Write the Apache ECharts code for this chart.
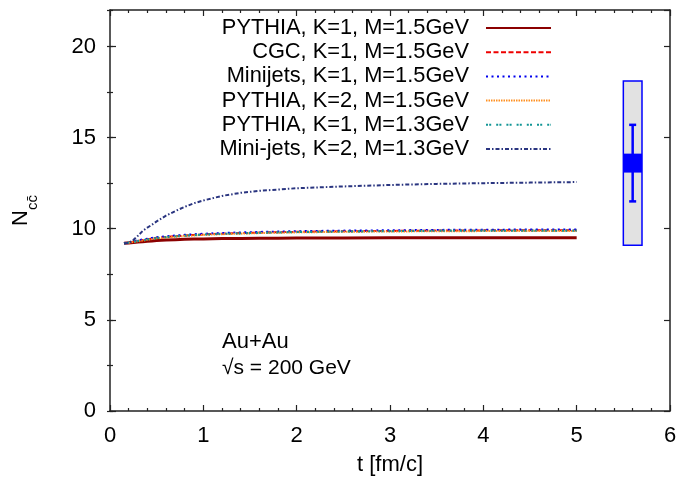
<!DOCTYPE html>
<html>
<head>
<meta charset="utf-8">
<script src="https://cdn.jsdelivr.net/npm/echarts@6/dist/echarts.min.js"></script>
<style>html,body{margin:0;padding:0;background:#fff}#c{width:680px;height:485px}</style>
</head>
<body>
<div id="c"></div>
<script>
// ---- data ----
const tValues = [0.15,0.2,0.25,0.3,0.35,0.4,0.45,0.5,0.6,0.7,0.8,0.9,1.0,1.2,1.4,1.6,1.8,2.0,2.5,3.0,3.5,4.0,4.5,5.0];
const pythiaK1M15 = [9.2,9.22,9.24,9.27,9.29,9.31,9.33,9.35,9.38,9.4,9.42,9.43,9.44,9.46,9.47,9.48,9.48,9.49,9.49,9.5,9.5,9.5,9.5,9.5];
const cgcK1M15    = [9.2,9.24,9.29,9.34,9.38,9.42,9.46,9.5,9.55,9.59,9.63,9.66,9.69,9.73,9.76,9.79,9.81,9.83,9.86,9.88,9.9,9.91,9.92,9.92];
const minijetsK1M15 = [9.2,9.25,9.31,9.36,9.41,9.45,9.49,9.53,9.58,9.62,9.66,9.69,9.72,9.76,9.79,9.82,9.84,9.86,9.89,9.91,9.93,9.94,9.95,9.95];
const pythiaK2M15 = [9.2,9.23,9.27,9.31,9.35,9.39,9.43,9.47,9.52,9.56,9.6,9.63,9.66,9.7,9.73,9.76,9.78,9.8,9.83,9.85,9.86,9.87,9.88,9.88];
const pythiaK1M13 = [9.2,9.24,9.28,9.33,9.37,9.41,9.45,9.49,9.54,9.58,9.62,9.65,9.68,9.72,9.75,9.78,9.8,9.82,9.85,9.87,9.89,9.9,9.9,9.9];
const minijetsK2M13 = [9.2,9.22,9.38,9.62,9.88,10.06,10.22,10.4,10.72,10.97,11.2,11.4,11.55,11.8,11.97,12.08,12.15,12.22,12.32,12.4,12.46,12.5,12.53,12.56];

const seriesNames = [
  'PYTHIA, K=1, M=1.5GeV',
  'CGC, K=1, M=1.5GeV',
  'Minijets, K=1, M=1.5GeV',
  'PYTHIA, K=2, M=1.5GeV',
  'PYTHIA, K=1, M=1.3GeV',
  'Mini-jets, K=2, M=1.3GeV'
];
const seriesValues = [pythiaK1M15, cgcK1M15, minijetsK1M15, pythiaK2M15, pythiaK1M13, minijetsK2M13];

// experimental point: t, value, stat error, sys error, half width (t), core half height
const expT = [5.6];
const expValue = [13.6];
const expStat = [2.1];
const expSys = [4.5];
const expHalfWidth = [0.1];
const expCore = [0.52];

const xTicks = [0,1,2,3,4,5,6];
const yTicks = [0,5,10,15,20];

// ---- styles ----
const FONT = "'Liberation Sans', Arial, sans-serif";
const styles = [
  {color:'#8b0000', width:3, type:'solid'},
  {color:'#ee0000', width:2, type:[5,2.5]},
  {color:'#0000ee', width:2.2, type:[2,3.5]},
  {color:'#ff9020', width:2, type:[1.5,1]},
  {color:'#129595', width:2.2, type:[2,1.2,2,5]},
  {color:'#2a3580', width:2, type:[4,2,1.5,2]}
];

const chart = echarts.init(document.getElementById('c'), null, {renderer:'canvas'});
const axisLineStyle = {color:'#222', width:1.5};

const lineSeries = seriesNames.map((name, i) => ({
  name: name,
  type: 'line',
  xAxisIndex: 0,
  yAxisIndex: 0,
  symbol: 'none',
  showSymbol: false,
  smooth: false,
  animation: false,
  data: tValues.map((t, k) => [t, seriesValues[i][k]]),
  lineStyle: styles[i],
  itemStyle: {color: styles[i].color},
  z: 2 + i
}));

const expSeries = {
  type: 'custom',
  name: 'STAR',
  xAxisIndex: 0,
  yAxisIndex: 0,
  animation: false,
  data: expT.map((t, i) => [t, expValue[i], expStat[i], expSys[i], expHalfWidth[i], expCore[i]]),
  renderItem: function (params, api) {
    const t = api.value(0), c = api.value(1), st = api.value(2), sy = api.value(3), hw = api.value(4), core = api.value(5);
    const tl = api.coord([t - hw, c + sy]);
    const br = api.coord([t + hw, c - sy]);
    const ctl = api.coord([t - hw, c + core]);
    const cbr = api.coord([t + hw, c - core]);
    const top = api.coord([t, c + st]);
    const bot = api.coord([t, c - st]);
    const cap = 3.5;
    return {
      type: 'group',
      children: [
        {type:'rect', shape:{x:tl[0], y:tl[1], width:br[0]-tl[0], height:br[1]-tl[1]}, style:{fill:'#e2e2e2', stroke:'#0000ff', lineWidth:1.5}},
        {type:'line', shape:{x1:top[0], y1:top[1], x2:bot[0], y2:bot[1]}, style:{stroke:'#0000ff', lineWidth:2.5}},
        {type:'line', shape:{x1:top[0]-cap, y1:top[1], x2:top[0]+cap, y2:top[1]}, style:{stroke:'#0000ff', lineWidth:2.5}},
        {type:'line', shape:{x1:bot[0]-cap, y1:bot[1], x2:bot[0]+cap, y2:bot[1]}, style:{stroke:'#0000ff', lineWidth:2.5}},
        {type:'rect', shape:{x:ctl[0], y:ctl[1], width:cbr[0]-ctl[0], height:cbr[1]-ctl[1]}, style:{fill:'#0000ff'}}
      ]
    };
  },
  z: 10
};

const option = {
  animation: false,
  backgroundColor: '#fff',
  textStyle: {fontFamily: FONT},
  grid: {left:110, right:10, top:10, bottom:74, containLabel:false, outerBoundsMode:'none'},
  legend: {
    data: seriesNames,
    orient: 'vertical',
    align: 'right',
    right: 128,
    top: 17,
    padding: 0,
    itemWidth: 65,
    itemHeight: 14,
    itemGap: 2.2,
    selectedMode: false,
    itemStyle: {opacity: 0},
    textStyle: {fontFamily: FONT, fontSize: 21.8, color:'#000', lineHeight: 22, padding:[0,12,0,0]}
  },
  xAxis: [
    {
      type:'value', position:'bottom', min:xTicks[0], max:xTicks[xTicks.length-1], interval:1,
      name:'t [fm/c]', nameLocation:'middle', nameGap:43,
      nameTextStyle:{fontFamily:FONT, fontSize:22, color:'#000'},
      axisLine:{show:true, onZero:false, lineStyle:axisLineStyle},
      axisTick:{show:true, inside:true, length:6, lineStyle:{color:'#222', width:1.2}},
      minorTick:{show:true, splitNumber:5, length:3, lineStyle:{color:'#222', width:1.2}},
      axisLabel:{fontFamily:FONT, fontSize:22, color:'#000', margin:14},
      splitLine:{show:false}
    },
    {
      type:'value', position:'top', min:xTicks[0], max:xTicks[xTicks.length-1], interval:1,
      axisLine:{show:true, onZero:false, lineStyle:axisLineStyle},
      axisTick:{show:true, inside:true, length:6, lineStyle:{color:'#222', width:1.2}},
      minorTick:{show:true, splitNumber:5, length:3, lineStyle:{color:'#222', width:1.2}},
      axisLabel:{show:false},
      splitLine:{show:false}
    }
  ],
  yAxis: [
    {
      type:'value', position:'left', min:0, max:22, interval:5,
      name:'{n|N}{s|c\u0063\u0304}', nameLocation:'middle', nameGap:70, nameRotate:90,
      nameTextStyle:{
        fontFamily:FONT, color:'#000',
        rich:{
          n:{fontFamily:FONT, fontSize:22, lineHeight:30, verticalAlign:'top', color:'#000'},
          s:{fontFamily:FONT, fontSize:15, lineHeight:30, verticalAlign:'bottom', color:'#000'}
        }
      },
      axisLine:{show:true, onZero:false, lineStyle:axisLineStyle},
      axisTick:{show:true, inside:true, length:6, lineStyle:{color:'#222', width:1.2}},
      axisLabel:{fontFamily:FONT, fontSize:22, color:'#000', margin:14, showMaxLabel:false,
        formatter: v => (yTicks.indexOf(v) >= 0 ? String(v) : '')},
      splitLine:{show:false}
    },
    {
      type:'value', position:'left', min:0, max:22, interval:2.5,
      axisLine:{show:false},
      axisTick:{show:true, inside:true, length:3, lineStyle:{color:'#222', width:1.2}},
      axisLabel:{show:false}, splitLine:{show:false}
    },
    {
      type:'value', position:'right', min:0, max:22, interval:5,
      axisLine:{show:true, onZero:false, lineStyle:axisLineStyle},
      axisTick:{show:true, inside:true, length:6, lineStyle:{color:'#222', width:1.2}},
      axisLabel:{show:false}, splitLine:{show:false}
    },
    {
      type:'value', position:'right', min:0, max:22, interval:2.5,
      axisLine:{show:false},
      axisTick:{show:true, inside:true, length:3, lineStyle:{color:'#222', width:1.2}},
      axisLabel:{show:false}, splitLine:{show:false}
    }
  ],
  graphic: [
    {type:'text', left:222, top:331, style:{text:'Au+Au', font:"22px 'Liberation Sans', Arial, sans-serif", fill:'#000'}},
    {type:'text', left:222, top:358, style:{text:'\u221As = 200 GeV', font:"21px 'Liberation Sans', Arial, sans-serif", fill:'#000'}}
  ],
  series: lineSeries.concat([expSeries])
};
chart.setOption(option);
</script>
</body>
</html>
